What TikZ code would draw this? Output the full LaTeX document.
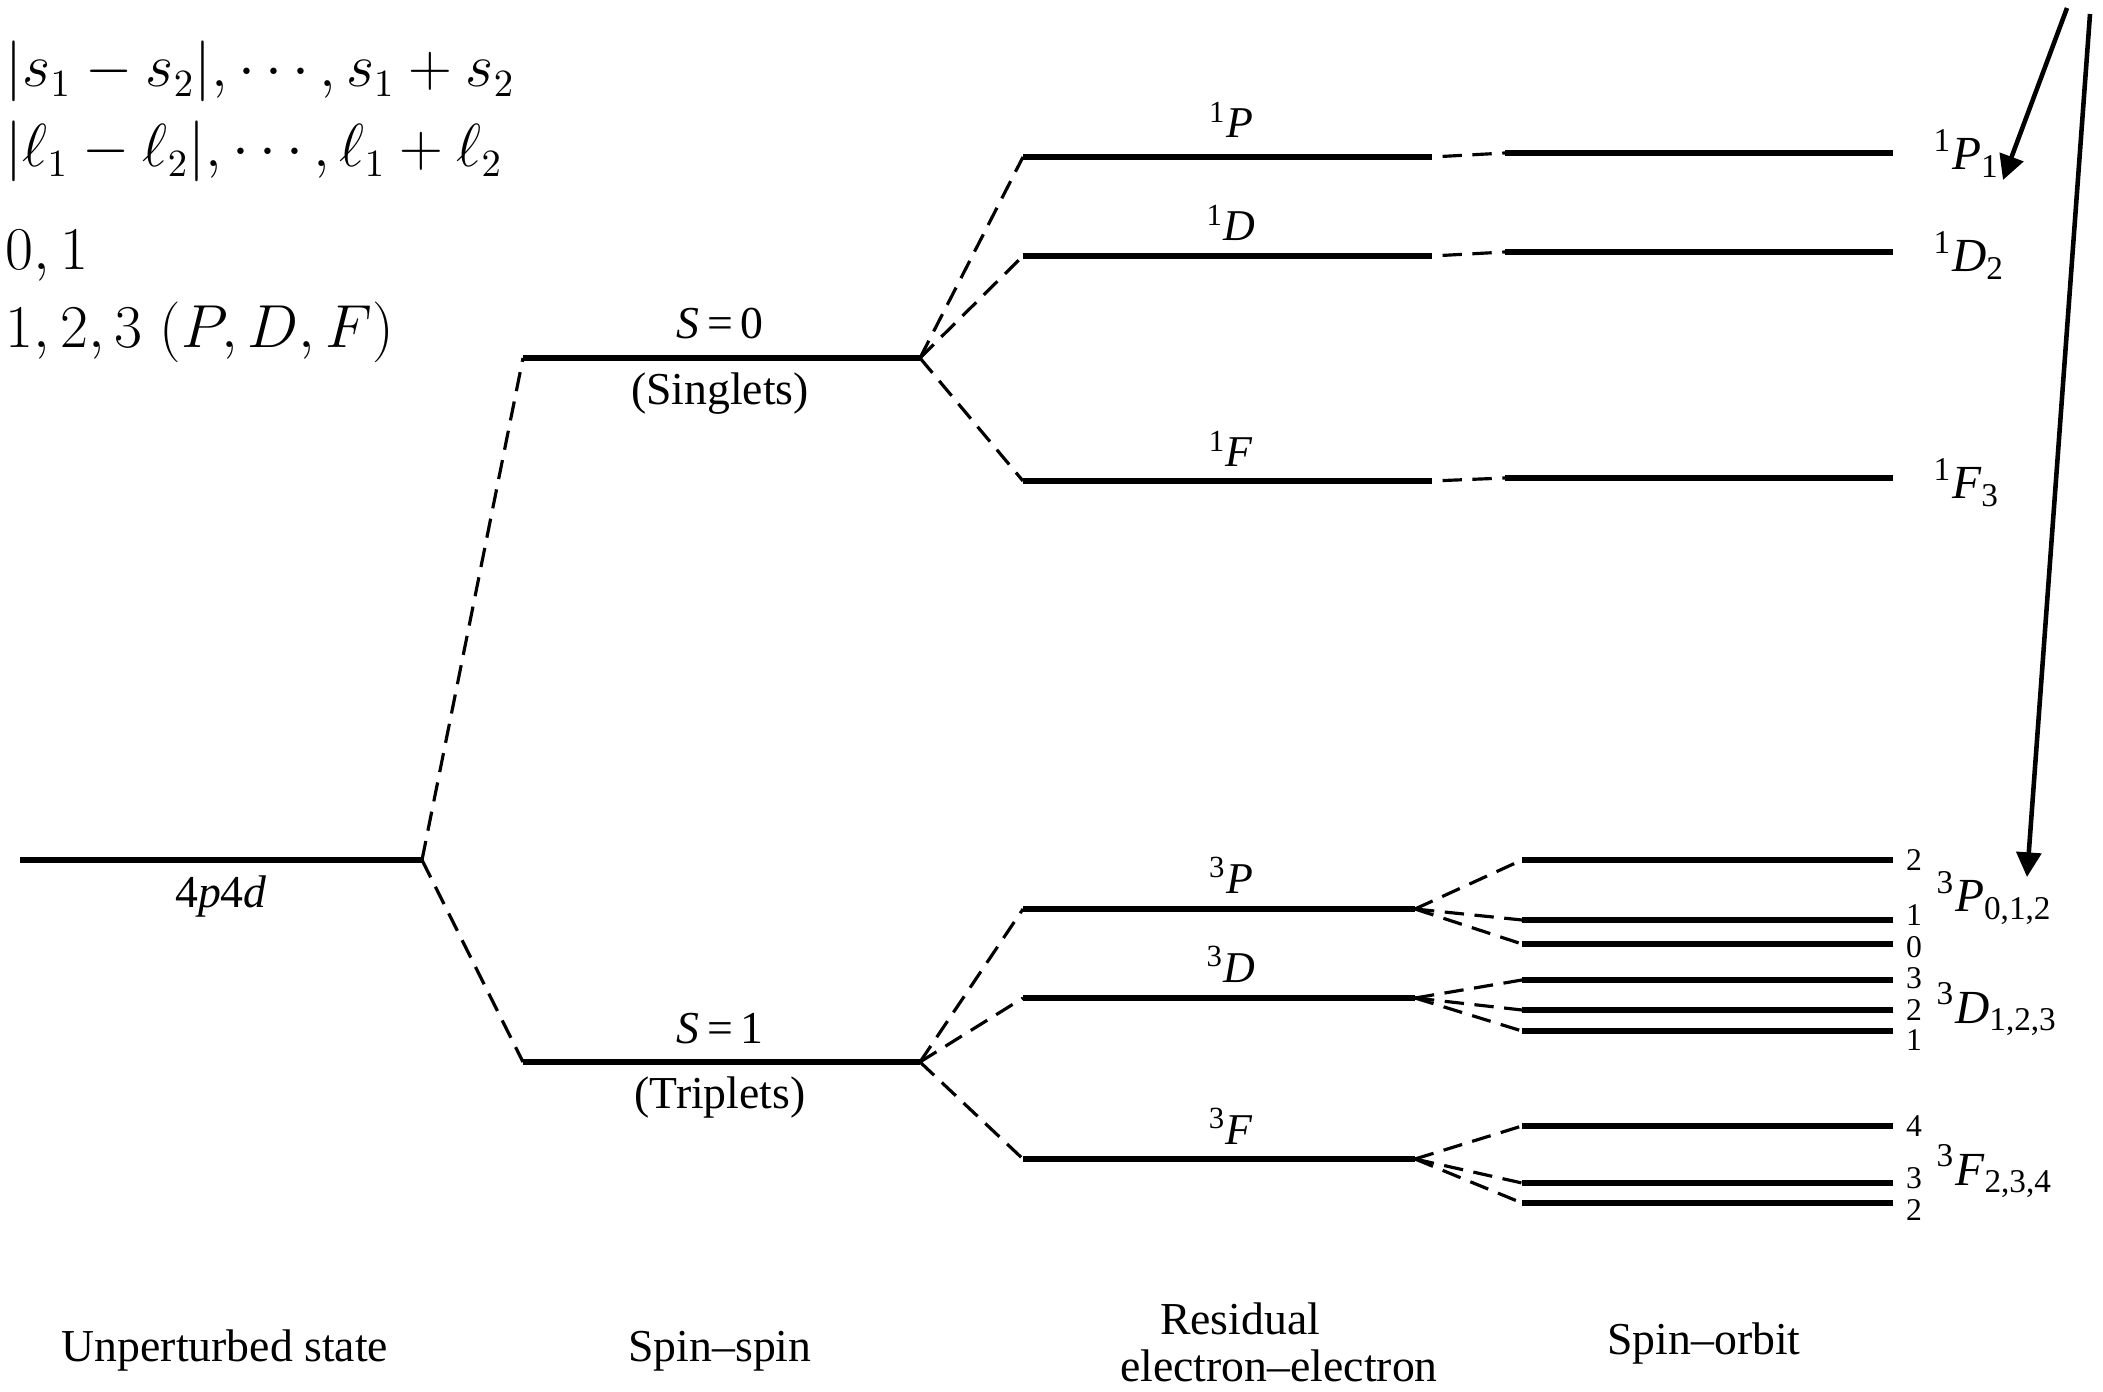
\documentclass[tikz,border=0pt]{standalone}
\usepackage[no-math]{fontspec}
\newfontfamily\timesfont[Ligatures=TeX]{Liberation Serif}
\usetikzlibrary{arrows.meta}
\tikzset{
  lvlline/.style={line width=1.8pt},
  splitline/.style={line width=0.9pt, dash pattern=on 5.5pt off 3pt},
  bridgeline/.style={splitline, dash phase=5.5pt},
  pointer/.style={line width=1.3pt, -{Triangle[length=7pt,width=7pt]}},
  termlabel/.style={font=\timesfont\fontsize{12.5}{14}\selectfont, anchor=base, inner sep=0pt},
  statelabel/.style={font=\timesfont\fontsize{13.5}{16}\selectfont, anchor=base west, inner sep=0pt},
  jlabel/.style={font=\timesfont\fontsize{9}{10}\selectfont, anchor=west, inner sep=0pt},
  stagelabel/.style={font=\timesfont\fontsize{13}{15}\selectfont, anchor=base, inner sep=0pt},
  rulelabel/.style={font=\fontsize{16}{19}\selectfont, anchor=base west, inner sep=0pt}
}

\begin{document}
\begin{tikzpicture}[x=0.01cm, y=-0.01cm]
  \useasboundingbox (0,0) rectangle (2103,1392);

  % energy levels: name / left x / right x / height
  \foreach \n/\xa/\xb/\y in {base/20/422/860, sing/523/920/358, trip/523/920/1062,
      sP/1023/1432/157, sD/1023/1432/256, sF/1023/1432/481,
      sP1/1505/1893/153, sD2/1505/1893/252, sF3/1505/1893/478,
      tP/1023/1415/909, tD/1023/1415/998, tF/1023/1415/1159,
      tP2/1522/1893/860, tP1/1522/1893/920, tP0/1522/1893/944,
      tD3/1522/1893/980, tD2/1522/1893/1010, tD1/1522/1893/1031,
      tF4/1522/1893/1126, tF3/1522/1893/1183, tF2/1522/1893/1203} {
    \coordinate (\n-l) at (\xa,\y);
    \coordinate (\n-r) at (\xb,\y);
    \draw[lvlline] (\n-l) -- (\n-r);
  }

  % splittings
  \draw[splitline] (base-r) -- (sing-l);
  \draw[splitline] (base-r) -- (trip-l);
  \foreach \t in {sP,sD,sF} \draw[splitline] (sing-r) -- (\t-l);
  \foreach \t in {tP,tD,tF} \draw[splitline] (trip-r) -- (\t-l);
  \draw[bridgeline] (sP-r) -- (sP1-l);
  \draw[bridgeline] (sD-r) -- (sD2-l);
  \draw[bridgeline] (sF-r) -- (sF3-l);
  \foreach \j in {2,1,0} \draw[splitline] (tP-r) -- (tP\j-l);
  \foreach \j in {3,2,1} \draw[splitline] (tD-r) -- (tD\j-l);
  \foreach \j in {4,3,2} \draw[splitline] (tF-r) -- (tF\j-l);

  % J values at the line ends
  \foreach \t/\j/\dy in {tP/2/0,tP/1/1.5,tP/0/-1,tD/3/0.5,tD/2/0,tD/1/-2.5,tF/4/0,tF/3/1.5,tF/2/-2}
    \node[jlabel, xshift=3.5pt, yshift=\dy pt] (j-\t\j) at (\t\j-r) {\j};

  % level labels
  \node[stagelabel] (lbase) at (221,908) {4\textit{p}4\textit{d}};
  \node[stagelabel] (lsing) at (720,339) {\textit{S}\,=\,0};
  \node[stagelabel] (lsinga) at (720,405) {(Singlets)};
  \node[stagelabel] (ltrip) at (720,1043) {\textit{S}\,=\,1};
  \node[stagelabel] (ltripa) at (720,1108) {(Triplets)};
  \node[termlabel] (lsP) at (1231,138) {\textsuperscript{1}\textit{P}};
  \node[termlabel] (lsD) at (1231,241) {\textsuperscript{1}\textit{D}};
  \node[termlabel] (lsF) at (1231,467) {\textsuperscript{1}\textit{F}};
  \node[termlabel] (ltP) at (1231,893) {\textsuperscript{3}\textit{P}};
  \node[termlabel] (ltD) at (1231,982) {\textsuperscript{3}\textit{D}};
  \node[termlabel] (ltF) at (1231,1144) {\textsuperscript{3}\textit{F}};
  \node[statelabel] (lsP1) at (1933,170) {\textsuperscript{1}\textit{P}\textsubscript{1}};
  \node[statelabel] (lsD2) at (1933,272) {\textsuperscript{1}\textit{D}\textsubscript{2}};
  \node[statelabel] (lsF3) at (1933,499) {\textsuperscript{1}\textit{F}\textsubscript{3}};
  \node[statelabel] (ltP012) at (1936,912) {\textsuperscript{3}\textit{P}\textsubscript{0,1,2}};
  \node[statelabel] (ltD123) at (1936,1023) {\textsuperscript{3}\textit{D}\textsubscript{1,2,3}};
  \node[statelabel] (ltF234) at (1936,1185) {\textsuperscript{3}\textit{F}\textsubscript{2,3,4}};

  % stage captions
  \node[stagelabel] (cap1) at (225,1361) {Unperturbed state};
  \node[stagelabel] (cap2) at (720,1361) {Spin--spin};
  \node[stagelabel] (cap3a) at (1240,1334) {Residual};
  \node[stagelabel] (cap3b) at (1279,1381) {electron--electron};
  \node[stagelabel] (cap4) at (1704,1354) {Spin--orbit};

  % coupling rules
  \node[rulelabel] (rs) at (5,87) {$|s_1 - s_2|, \cdots, s_1 + s_2$};
  \node[rulelabel] (rl) at (5,167) {$|\ell_1 - \ell_2|, \cdots, \ell_1 + \ell_2$};
  \node[rulelabel] (rS) at (5,270) {$0, 1$};
  \node[rulelabel] (rL) at (5,348) {$1, 2, 3\ (P, D, F)$};

  % pointers
  \coordinate (ptrA) at (2067,8);
  \coordinate (ptrB) at (2090,14);
  \draw[pointer] (ptrA) -- (2003,180);
  \draw[pointer] (ptrB) -- (2027,877);
\end{tikzpicture}
\end{document}
